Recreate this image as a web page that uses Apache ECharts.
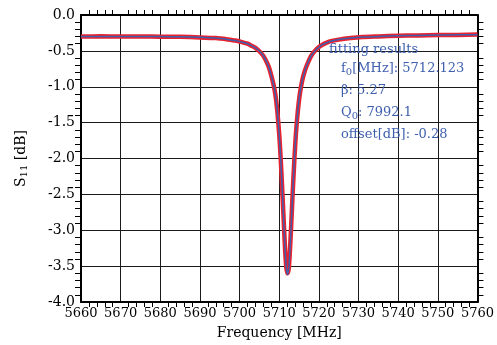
<!DOCTYPE html>
<html>
<head>
<meta charset="utf-8">
<script src="https://cdn.jsdelivr.net/npm/echarts@6/dist/echarts.min.js"></script>
<style>
  html, body { margin: 0; padding: 0; background: #fff; }
  #chart { width: 497px; height: 345px; }
</style>
</head>
<body>
<div id="chart"></div>
<script>
// frequency points [MHz] and S11 values [dB]
const freqs = [5660, 5665, 5670, 5675, 5680, 5685, 5690, 5694, 5697, 5699, 5701, 5702, 5703, 5704, 5705,
  5706, 5707, 5707.5, 5708, 5708.5, 5709, 5709.5, 5710, 5710.4, 5710.8, 5711.2, 5711.5, 5711.8, 5712.1,
  5712.4, 5712.7, 5713.0, 5713.4, 5713.8, 5714.2, 5714.7, 5715.2, 5715.8, 5716.5, 5717.2, 5718, 5719,
  5720, 5721, 5722, 5723, 5725, 5728, 5731, 5735, 5740, 5745, 5750, 5755, 5760];

const measured = [-0.300, -0.297, -0.301, -0.298, -0.302, -0.303, -0.312, -0.322, -0.340, -0.356, -0.385, -0.400,
  -0.428, -0.458, -0.505, -0.570, -0.675, -0.745, -0.845, -0.955, -1.100, -1.330, -1.665, -2.030, -2.480,
  -2.950, -3.290, -3.525, -3.600, -3.535, -3.285, -2.955, -2.470, -2.035, -1.660, -1.335, -1.100, -0.912,
  -0.770, -0.670, -0.575, -0.500, -0.445, -0.410, -0.385, -0.365, -0.343, -0.322, -0.308, -0.299, -0.288,
  -0.285, -0.279, -0.278, -0.273];

const fitted = [-0.299, -0.299, -0.299, -0.299, -0.301, -0.304, -0.311, -0.322, -0.340, -0.356, -0.384, -0.400,
  -0.426, -0.458, -0.503, -0.568, -0.676, -0.748, -0.845, -0.955, -1.100, -1.330, -1.665, -2.030, -2.480,
  -2.955, -3.290, -3.530, -3.619, -3.530, -3.290, -2.955, -2.480, -2.030, -1.665, -1.330, -1.100, -0.910,
  -0.770, -0.670, -0.575, -0.502, -0.447, -0.410, -0.386, -0.366, -0.343, -0.322, -0.308, -0.298, -0.289,
  -0.284, -0.280, -0.277, -0.274];

const fitLabels = ['f0[MHz]: 5712.123', 'β: 5.27', 'Q0: 7992.1', 'offset[dB]: -0.28'];

const serif = 'DejaVu Serif';
const blue = '#3e5fae';
const red = '#e8222e';

const chart = echarts.init(document.getElementById('chart'));

const baseX = {
  type: 'value', min: 5660, max: 5760, interval: 10,
  axisLine: { show: true, onZero: false, lineStyle: { color: '#000', width: 2 } },
  axisTick: { show: false },
  minorTick: { show: true, splitNumber: 5, length: 5, lineStyle: { color: '#000', width: 1 } },
};
const baseY = {
  type: 'value', min: -4, max: 0, interval: 0.5,
  axisLine: { show: true, onZero: false, lineStyle: { color: '#000', width: 2 } },
  axisTick: { show: false },
  minorTick: { show: true, splitNumber: 5, length: 6, lineStyle: { color: '#000', width: 1 } },
};

const option = {
  animation: false,
  grid: { left: 81, right: 16, top: 15, bottom: 39 },
  xAxis: [
    {
      ...baseX,
      position: 'bottom',
      name: 'Frequency [MHz]',
      nameLocation: 'middle',
      nameGap: 24,
      nameTextStyle: { fontFamily: serif, fontSize: 14, color: '#000' },
      axisLabel: { fontFamily: serif, fontSize: 13, color: '#000', margin: 5, formatter: (v) => String(v) },
      splitLine: { show: true, lineStyle: { color: '#1a1a1a', width: 1 } },
      minorTick: { ...baseX.minorTick, inside: true },
    },
    {
      ...baseX,
      position: 'top',
      axisLabel: { show: false },
      splitLine: { show: false },
      minorTick: { ...baseX.minorTick, inside: true },
    },
  ],
  yAxis: [
    {
      ...baseY,
      position: 'left',
      name: 'S{sub|11} [dB]',
      nameLocation: 'middle',
      nameGap: 52,
      nameRotate: 90,
      nameTextStyle: {
        fontFamily: serif, fontSize: 14, color: '#000',
        rich: { sub: { fontFamily: serif, fontSize: 10, color: '#000', verticalAlign: 'bottom', padding: [6, 0, 0, 0] } },
      },
      axisLabel: {
        fontFamily: serif, fontSize: 14, color: '#000', margin: 6,
        formatter: (v) => v.toFixed(1),
      },
      splitLine: { show: true, lineStyle: { color: '#1a1a1a', width: 1 } },
      minorTick: { ...baseY.minorTick, inside: true },
    },
    {
      ...baseY,
      position: 'right',
      axisLabel: { show: false },
      splitLine: { show: false },
      minorTick: { ...baseY.minorTick, inside: true },
    },
  ],
  graphic: [
    {
      type: 'text', left: 329, top: 43, z: 10,
      style: { text: 'fitting results', fontFamily: serif, fontSize: 13, fill: blue },
    },
    ...fitLabels.map((t, i) => ({
      type: 'text', left: 341, top: 62 + i * 22, z: 10,
      style: {
        text: t.replace(/^([fQ])0/, '$1{sub|0}'),
        fontFamily: serif, fontSize: 13, fill: blue,
        rich: { sub: { fontFamily: serif, fontSize: 10, fill: blue, padding: [7, 0, 0, 0] } },
      },
    })),
  ],
  series: [
    {
      name: 'measured', type: 'line', showSymbol: false, smooth: 0.2,
      data: freqs.map((f, i) => [f, measured[i]]),
      lineStyle: { color: red, width: 4.5 },
      z: 3,
    },
    {
      name: 'fit', type: 'line', showSymbol: false, smooth: 0.2,
      data: freqs.map((f, i) => [f, fitted[i]]),
      lineStyle: { color: blue, width: 1.5 },
      z: 4,
    },
  ],
};

chart.setOption(option);
</script>
</body>
</html>
